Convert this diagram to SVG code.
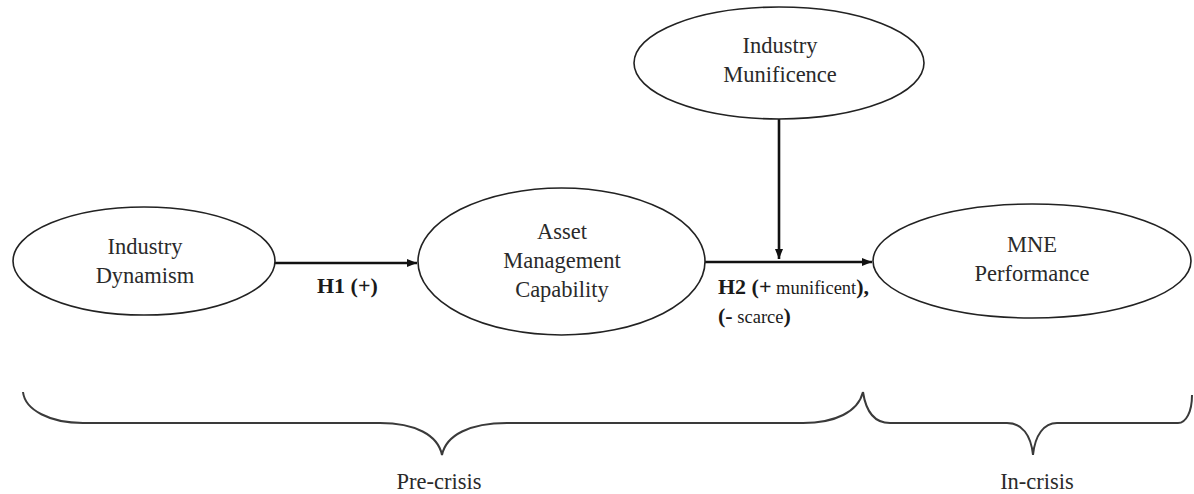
<svg xmlns="http://www.w3.org/2000/svg" width="1194" height="494" viewBox="0 0 1194 494">
<style>
.node{fill:#fff;stroke:#222;stroke-width:1.6}
.lbl{font-family:'Liberation Serif','Times New Roman',Times,'DejaVu Serif',serif;font-size:22.5px;fill:#2a2a2a;text-anchor:middle}
.conn{stroke:#111;stroke-width:2.6;fill:none}
.brace{stroke:#3a3a3a;stroke-width:2;fill:none}
.hl{font-family:'Liberation Serif','Times New Roman',Times,'DejaVu Serif',serif;font-size:22px;fill:#1a1a1a}
.b{font-weight:bold}
.sm{font-size:18.5px}
</style>
<defs>
<marker id="ah" markerWidth="10" markerHeight="8" refX="10" refY="4" orient="auto" markerUnits="userSpaceOnUse">
<path d="M0,0 L10,4 L0,8 z" fill="#111"/>
</marker>
</defs>
<g id="connectors">
<line class="conn" x1="275" y1="263" x2="417" y2="263" marker-end="url(#ah)"/>
<line class="conn" x1="705" y1="262" x2="872" y2="262" marker-end="url(#ah)"/>
<line class="conn" x1="779" y1="119" x2="779" y2="259" marker-end="url(#ah)"/>
</g>
<g id="node-dynamism">
<ellipse class="node" cx="144" cy="261" rx="131" ry="54"/>
<text class="lbl" x="145" y="254">Industry</text>
<text class="lbl" x="145" y="283">Dynamism</text>
</g>
<g id="node-amc">
<ellipse class="node" cx="561.5" cy="261.5" rx="143.5" ry="73.5"/>
<text class="lbl" x="562" y="239">Asset</text>
<text class="lbl" x="562" y="268">Management</text>
<text class="lbl" x="562" y="297">Capability</text>
</g>
<g id="node-mne">
<ellipse class="node" cx="1032" cy="261" rx="159" ry="57"/>
<text class="lbl" x="1032" y="252">MNE</text>
<text class="lbl" x="1032" y="281">Performance</text>
</g>
<g id="node-munificence">
<ellipse class="node" cx="779" cy="63" rx="145" ry="56"/>
<text class="lbl" x="780" y="53">Industry</text>
<text class="lbl" x="780" y="82">Munificence</text>
</g>
<g id="labels">
<text class="hl b" x="317" y="293">H1 (+)</text>
<text class="hl" x="718" y="294"><tspan class="b">H2 (+</tspan><tspan class="sm"> munificent</tspan><tspan class="b">),</tspan></text>
<text class="hl" x="718" y="323"><tspan class="b">(-</tspan><tspan class="sm"> scarce</tspan><tspan class="b">)</tspan></text>
</g>
<g id="braces">
<path class="brace" d="M23 392 C25 410 50 423 83 423 L380 423 C415 423 438 435 442 455 C446 435 470 423 507 423 L803 423 C835 423 858 412 863 392"/>
<path class="brace" d="M863 392 C866 412 875 423 890 423 L1007 423 C1022 423 1031 435 1033 455 C1035 435 1044 423 1057 423 L1178 423 C1186 423 1192 412 1192 395"/>
<text class="lbl" x="439" y="489">Pre-crisis</text>
<text class="lbl" x="1037" y="489">In-crisis</text>
</g>
</svg>
